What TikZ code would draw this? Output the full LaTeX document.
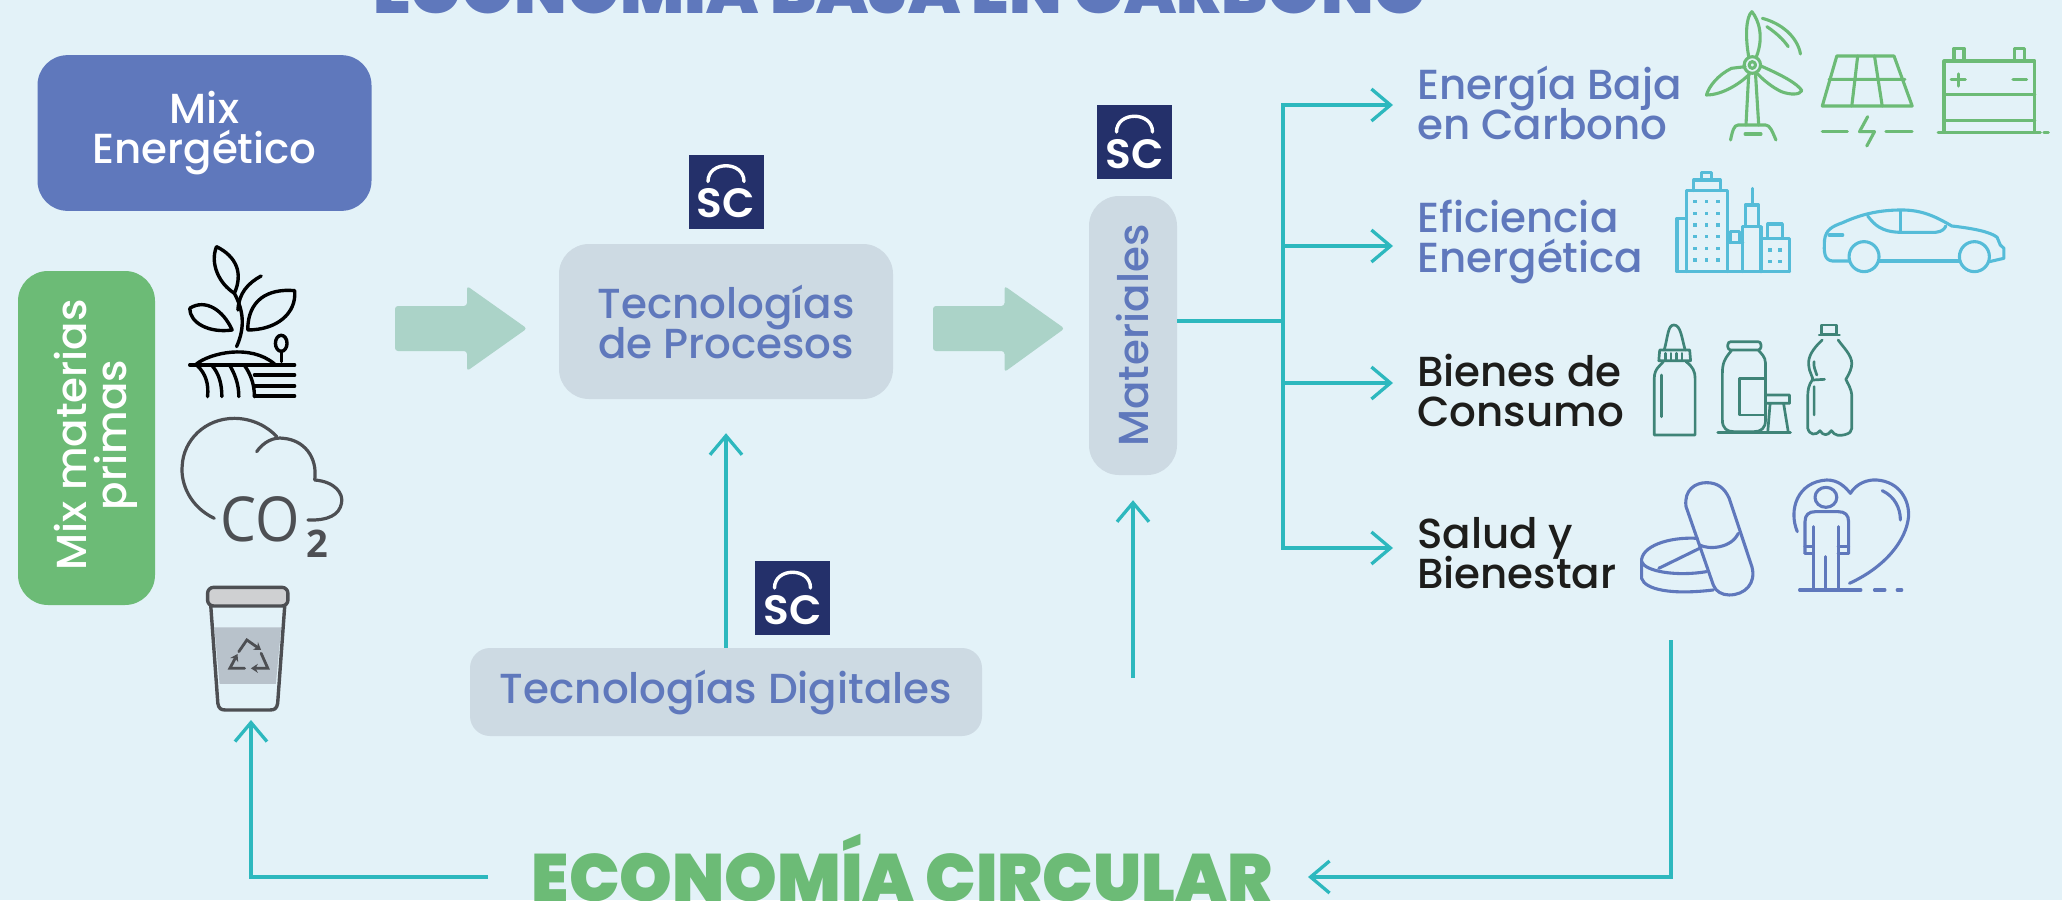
\documentclass[tikz,border=0pt]{standalone}
\usepackage{fontspec}
\setmainfont{Poppins Medium}
\newfontfamily\heavyfont{Poppins Black}
\newfontfamily\semifont{Poppins SemiBold}
\newfontfamily\co{Open Sans}
\usetikzlibrary{arrows.meta}
\definecolor{bgc}{HTML}{E3F2F8}
\definecolor{bluec}{HTML}{5F78BC}
\definecolor{greenc}{HTML}{6CBB76}
\definecolor{grayc}{HTML}{CDDAE3}
\definecolor{tealc}{HTML}{2DB8BE}
\definecolor{navyc}{HTML}{24306A}
\definecolor{blockc}{HTML}{ABD3C8}
\definecolor{iconc}{HTML}{4D4F53}
\definecolor{cityc}{HTML}{55BCD8}
\definecolor{bottlec}{HTML}{3F8478}
\definecolor{inkc}{HTML}{1D1D1B}
\definecolor{bandc}{HTML}{B8C2CB}
\definecolor{lidc}{HTML}{CFD0D2}
\tikzset{
  conn/.style={draw=tealc,line width=3.3pt,-{Straight Barb[length=19pt,width=32pt,line width=3.3pt]}},
  plainconn/.style={draw=tealc,line width=3.3pt},
  roundbox/.style={rounded corners=30pt,inner sep=0pt,align=center},
  txt/.style={font=\fontsize{42}{40}\selectfont},
  lab/.style={inner sep=0pt,anchor=base west,align=left,txt},
  headline/.style={inner sep=0pt,anchor=base},
  ico/.style={line width=3.1pt,line cap=round,line join=round},
  blockarrow/.style={fill=blockc,rounded corners=3pt},
  z1/.style={x=0.4464pt,y=-0.3333pt},
  z3/.style={x=0.4541pt,y=-0.3333pt},
}
\newcommand{\sclogo}[3]{%
  \node[fill=navyc,minimum width=75pt,minimum height=74pt,inner sep=0pt] (#1) at (#2,#3) {};
  \begin{scope}[shift={(#2,#3)}]
    \draw[white,line width=3.4pt,line cap=round] (-18,-10) .. controls (-18,-31) and (18,-31) .. (18,-10);
    \node[white,inner sep=0pt,font=\semifont\fontsize{41}{41}\selectfont,xscale=1.03] (#1t) at (0,12) {SC};
  \end{scope}}
\begin{document}
\normallineskiplimit=-100pt
\lineskiplimit=-100pt
\begin{tikzpicture}[x=1pt,y=-1pt]
\useasboundingbox (0,0) rectangle (2062,900);
\clip (0,0) rectangle (2062,900);
\fill[bgc] (0,0) rectangle (2062,900);

% headings
\node[headline,text=bluec,font=\heavyfont\fontsize{67.5}{70}\selectfont] (title) at (900,13.5) {ECONOMÍA BAJA EN CARBONO};
\node[headline,text=greenc,font=\heavyfont\fontsize{67}{70}\selectfont] (eco) at (902,901) {ECONOMÍA CIRCULAR};

% boxes
\node[roundbox,fill=bluec,text=white,minimum width=334pt,minimum height=155.7pt,txt] (mix) at (204.5,133) {Mix\\Energético};
\node[roundbox,fill=greenc,minimum width=334pt,minimum height=137pt,rotate=90] (prim) at (86.5,438) {};
\node[inner sep=0pt,anchor=base,align=center,rotate=90,text=white,txt] (primt) at (126,435) {Mix materias\\primas};
\node[roundbox,fill=grayc,text=bluec,minimum width=334pt,minimum height=155pt,txt] (proc) at (726,321.5) {Tecnologías\\de Procesos};
\node[roundbox,fill=grayc,text=bluec,minimum width=512pt,minimum height=88pt,rounded corners=20pt,txt] (digi) at (726,692) {Tecnologías Digitales};
\node[roundbox,fill=grayc,text=bluec,minimum width=279pt,minimum height=88pt,rotate=90,txt] (mat) at (1133,335.5) {Materiales};

% logos
\sclogo{logoa}{726}{191.5}
\sclogo{logob}{1134.5}{142}
\sclogo{logoc}{792.5}{598}

% category labels
\node[lab,text=bluec] (ener) at (1417,139.5) {Energía Baja\\en Carbono};
\node[lab,text=bluec] (efic) at (1417,272.5) {Eficiencia\\Energética};
\node[lab,text=inkc] (bien) at (1417,426.5) {Bienes de\\Consumo};
\node[lab,text=inkc] (salud) at (1417,588.5) {Salud y\\Bienestar};

% block arrows
\fill[blockarrow] (395,306) -- (467,306) -- (467,286) -- (527,328.5) -- (467,371) -- (467,351) -- (395,351) -- cycle;
\fill[blockarrow] (933,306) -- (1004.5,306) -- (1004.5,286) -- (1064.5,328.5) -- (1004.5,372) -- (1004.5,351) -- (933,351) -- cycle;

% connector points
\coordinate (t1) at (1283,105);
\coordinate (t2) at (1283,246);
\coordinate (t3) at (1283,383);
\coordinate (t4) at (1283,548);
\coordinate (tm) at (1283,321);
\coordinate (mstart) at (1133,678);
\coordinate (rtop) at (1671,640);
\coordinate (rbot) at (1671,877);
\coordinate (lbot) at (251,877);
\coordinate (cuptip) at (251,720);

% connectors
\draw[conn,shorten >=34pt] (digi.north) -- (proc.south);
\draw[conn,shorten >=25pt] (mstart) -- (mat.west);
\draw[plainconn,line cap=rect] (t1) -- (t4);
\draw[plainconn] (tm -| mat.south) -- (tm);
\draw[conn,shorten >=24pt] (t1) -- (t1 -| ener.west);
\draw[conn,shorten >=24pt] (t2) -- (t2 -| efic.west);
\draw[conn,shorten >=24pt] (t3) -- (t3 -| bien.west);
\draw[conn,shorten >=24pt] (t4) -- (t4 -| salud.west);
\draw[conn] (rtop) -- (rbot) -- (1308,877);
\draw[conn] (488,877) -- (lbot) -- (cuptip);

% plant
\begin{scope}[z1,ico,draw=black,line width=3.4pt]
  \draw (485,740) .. controls (530,770) and (545,820) .. (525,880) .. controls (490,850) and (470,790) .. (485,740);
  \draw (530,1040) .. controls (550,980) and (545,930) .. (525,880);
  \draw (585,828) .. controls (555,850) and (535,880) .. (533,930);
  \draw (555,990) .. controls (555,900) and (600,865) .. (660,872) .. controls (665,940) and (620,990) .. (555,990);
  \draw (425,925) .. controls (460,895) and (500,930) .. (520,990) .. controls (470,1000) and (425,970) .. (425,925);
  \draw (440,1092) .. controls (470,1060) and (560,1030) .. (615,1092);
  \draw (425,1095) -- (660,1095);
  \draw (570,1125) -- (660,1125) (570,1158) -- (660,1158) (570,1188) -- (660,1188);
  \draw (465,1190) .. controls (468,1150) and (460,1120) .. (442,1097);
  \draw (497,1190) .. controls (497,1150) and (490,1120) .. (475,1097);
  \draw (535,1190) .. controls (535,1150) and (525,1120) .. (515,1097);
  \draw (570,1190) .. controls (570,1150) and (560,1120) .. (548,1097);
  \draw (630,1085) -- (630,1055);
  \draw (630,1030) ellipse (13 and 24);
\end{scope}

% CO2 cloud and cup
\begin{scope}[shift={(0,420)},z1,ico,draw=iconc,line width=3.2pt]
  \draw (480,295) .. controls (425,260) and (405,190) .. (408,140) .. controls (410,60) and (460,-5) .. (525,-5) .. controls (565,-5) and (600,20) .. (620,50);
  \draw (575,95) .. controls (590,65) and (615,50) .. (635,55) .. controls (680,60) and (712,110) .. (705,180) .. controls (750,185) and (770,220) .. (765,250) .. controls (760,285) and (735,302) .. (690,300);
  \node[text=iconc,inner sep=0pt,anchor=base,font=\co\fontsize{62}{62}\selectfont,xscale=.92] (cotext) at (582,365) {CO};
  \node[text=iconc,inner sep=0pt,anchor=base,font=\co\bfseries\fontsize{38}{40}\selectfont] (cosub) at (712,413) {2};
  \fill[bandc] (480,622) -- (630,622) -- (618,792) -- (492,792) -- cycle;
  \draw[line width=3.4pt] (472,555) -- (488,850) .. controls (490,866) and (495,870) .. (505,870) -- (605,870) .. controls (615,870) and (620,866) .. (622,850) -- (638,555);
  \draw[rounded corners=6pt,fill=lidc,line width=3.4pt] (465,502) -- (645,502) -- (645,558) -- (465,558) -- cycle;
  \begin{scope}[line width=2.8pt,line join=miter]
    \draw[-{Stealth[length=7pt,width=9pt]}] (535,695) -- (553,660) -- (585,690);
    \draw[-{Stealth[length=7pt,width=9pt]}] (585,700) -- (600,745) -- (562,745);
    \draw[-{Stealth[length=7pt,width=9pt]}] (548,745) -- (515,745) -- (532,702);
  \end{scope}
\end{scope}

% turbine
\begin{scope}[shift={(1350,0)},z3,ico,draw=greenc]
  \draw (886,195) ellipse (18 and 25);
  \draw (886,195) ellipse (7 and 10);
  \draw (878,222) -- (872,375) (893,222) -- (900,375);
  \draw (838,420) .. controls (842,395) and (845,375) .. (855,375) -- (915,375) .. controls (925,375) and (930,395) .. (938,420);
  \draw (870,402) -- (905,402);
  \draw (878,170) .. controls (870,110) and (872,50) .. (885,35) .. controls (900,60) and (912,110) .. (895,170);
  \draw (908,55) .. controls (950,70) and (985,110) .. (992,162);
  \draw (918,80) .. controls (940,100) and (955,120) .. (965,140);
  \draw (870,200) -- (840,205) .. controls (810,225) and (790,260) .. (785,285) .. controls (820,285) and (860,250) .. (880,222);
  \draw (905,198) .. controls (950,225) and (985,250) .. (995,272) .. controls (990,285) and (970,285) .. (950,275) .. controls (930,262) and (910,240) .. (898,222);
  % solar
  \draw (1072,168) -- (1198,168) -- (1238,318) -- (1040,318) -- cycle;
  \draw (1118,168) -- (1105,318) (1155,168) -- (1172,318) (1055,238) -- (1222,238);
  \draw (1040,395) -- (1095,395) (1180,395) -- (1238,395);
  \draw (1140,350) -- (1122,395) -- (1155,395) -- (1138,438);
  % battery
  \draw (1308,397) -- (1308,183) -- (1508,183) -- (1508,397);
  \draw (1330,183) -- (1330,145) -- (1352,145) -- (1352,183) (1463,183) -- (1463,145) -- (1485,145) -- (1485,183);
  \draw (1308,283) -- (1508,283) (1308,362) -- (1508,362) (1295,397) -- (1520,397) (1528,397) -- (1538,397);
  \draw (1324,238) -- (1355,238) (1340,222) -- (1340,258) (1460,238) -- (1490,238);
\end{scope}

% city and car
\begin{scope}[shift={(1350,0)},z3,ico,draw=cityc]
  \draw (740,815) -- (740,572) -- (832,572) -- (832,815);
  \draw (757,572) -- (757,540) -- (815,540) -- (815,572) (775,540) -- (775,518) -- (797,518) -- (797,540);
  \draw (740,655) -- (720,655) -- (720,815) -- (968,815);
  \draw (865,815) -- (865,680) -- (905,680) -- (905,815);
  \draw (870,680) -- (870,615) -- (900,615) -- (900,680) (886,615) -- (886,565);
  \draw (832,728) -- (865,728) (838,728) -- (838,695) -- (858,695) -- (858,728);
  \draw (905,715) -- (968,715) -- (968,815) (920,715) -- (920,672) -- (952,672) -- (952,715);
  \foreach \cx in {760,785,810} \foreach \cy in {605,640,675,710,745,780}
    \fill[cityc] (\cx-4,\cy-5) rectangle (\cx+4,\cy+5);
  \foreach \cx in {925,947} \foreach \cy in {750,785}
    \fill[cityc] (\cx-4,\cy-5) rectangle (\cx+4,\cy+5);
  \draw (1100,783) -- (1062,783) .. controls (1045,780) and (1043,760) .. (1045,720) .. controls (1048,690) and (1060,680) .. (1085,668) .. controls (1130,640) and (1170,630) .. (1215,630) .. controls (1260,630) and (1290,650) .. (1325,678) .. controls (1370,685) and (1410,695) .. (1425,712) -- (1432,735) -- (1440,745) -- (1440,775) -- (1408,785);
  \draw (1165,783) -- (1340,783);
  \draw (1132,770) ellipse (33 and 45) (1375,770) ellipse (33 and 45);
  \draw (1140,648) .. controls (1155,675) and (1170,695) .. (1210,697) -- (1290,697) .. controls (1305,695) and (1310,685) .. (1312,678);
  \draw (1212,632) -- (1212,697) (1055,705) -- (1085,705);
\end{scope}

% bottles
\begin{scope}[shift={(1350,300)},z3,ico,draw=bottlec,line width=2.7pt]
  \draw (690,185) .. controls (685,195) and (670,205) .. (670,235) -- (670,405) -- (760,405) -- (760,235) .. controls (760,215) and (755,200) .. (740,185);
  \draw (682,150) -- (748,150) -- (750,182) -- (680,182) -- cycle;
  \draw (695,160) -- (695,180) (707,160) -- (707,180) (719,160) -- (719,180) (731,160) -- (731,180);
  \draw (692,150) .. controls (700,110) and (700,75) .. (713,75) .. controls (728,75) and (730,110) .. (738,150);
  \draw (686,225) -- (686,350);
  \draw[rounded corners=3pt] (832,125) -- (905,125) -- (905,150) -- (832,150) -- cycle;
  \draw (840,152) .. controls (825,175) and (820,190) .. (820,220) -- (820,360) .. controls (820,385) and (830,395) .. (845,395) -- (890,395) .. controls (905,395) and (915,385) .. (915,360) -- (915,190) .. controls (915,170) and (905,160) .. (900,152);
  \draw (915,235) -- (858,235) -- (858,345) -- (915,345);
  \draw (915,285) -- (968,285) -- (968,310) -- (918,310) (925,312) -- (920,395) (955,312) -- (965,395);
  \draw (810,397) -- (970,397);
  \draw (1038,75) -- (1072,75) -- (1072,103) -- (1038,103) -- cycle (1033,105) -- (1078,105);
  \draw (1040,120) .. controls (1020,145) and (1008,170) .. (1010,195) .. controls (1010,215) and (1022,235) .. (1018,240) .. controls (1010,255) and (1008,270) .. (1008,290) -- (1008,385) .. controls (1012,405) and (1025,408) .. (1035,392) .. controls (1042,408) and (1052,408) .. (1060,392) .. controls (1068,408) and (1078,408) .. (1090,404) .. controls (1100,400) and (1105,395) .. (1105,385) -- (1105,290) .. controls (1105,265) and (1095,250) .. (1092,238) .. controls (1100,220) and (1105,205) .. (1105,190) .. controls (1105,165) and (1085,140) .. (1075,120);
  \draw (1022,185) .. controls (1020,200) and (1025,212) .. (1028,225) (1020,240) -- (1045,238) (1022,260) -- (1022,345);
\end{scope}

% pills and person
\begin{scope}[shift={(1350,300)},z3,ico,draw=bluec]
  \draw (740,620) .. controls (735,570) and (760,548) .. (785,548) .. controls (810,548) and (825,565) .. (835,595) -- (885,800) .. controls (895,850) and (870,885) .. (835,885) .. controls (820,885) and (805,875) .. (800,855) -- cycle;
  \draw (770,735) .. controls (790,750) and (840,745) .. (855,700);
  \draw (765,715) .. controls (700,710) and (640,740) .. (642,785) -- (642,835) .. controls (650,870) and (710,885) .. (800,870);
  \draw (642,785) .. controls (650,815) and (720,830) .. (785,815);
  \draw (680,805) -- (770,745);
  \draw (1048,592) ellipse (24 and 30);
  \draw (1002,760) -- (1002,665) .. controls (1002,645) and (1010,635) .. (1025,635) -- (1075,635) .. controls (1090,635) and (1098,645) .. (1098,665) -- (1098,760);
  \draw (1002,760) -- (1020,760) (1075,760) -- (1098,760) (1002,740) -- (1020,740) (1075,740) -- (1098,740);
  \draw (1020,680) -- (1020,868) (1075,680) -- (1075,868) (1047,770) -- (1047,868);
  \draw (990,870) -- (1125,870) (1155,870) -- (1178,870) (1205,870) -- (1215,870);
  \draw (985,695) .. controls (965,630) and (985,545) .. (1050,540) .. controls (1075,540) and (1090,560) .. (1102,580) .. controls (1115,550) and (1140,538) .. (1160,540) .. controls (1210,545) and (1232,600) .. (1230,650) .. controls (1225,720) and (1180,800) .. (1100,850);
  \draw (1172,572) .. controls (1200,590) and (1212,625) .. (1212,660);
\end{scope}
\end{tikzpicture}
\end{document}
